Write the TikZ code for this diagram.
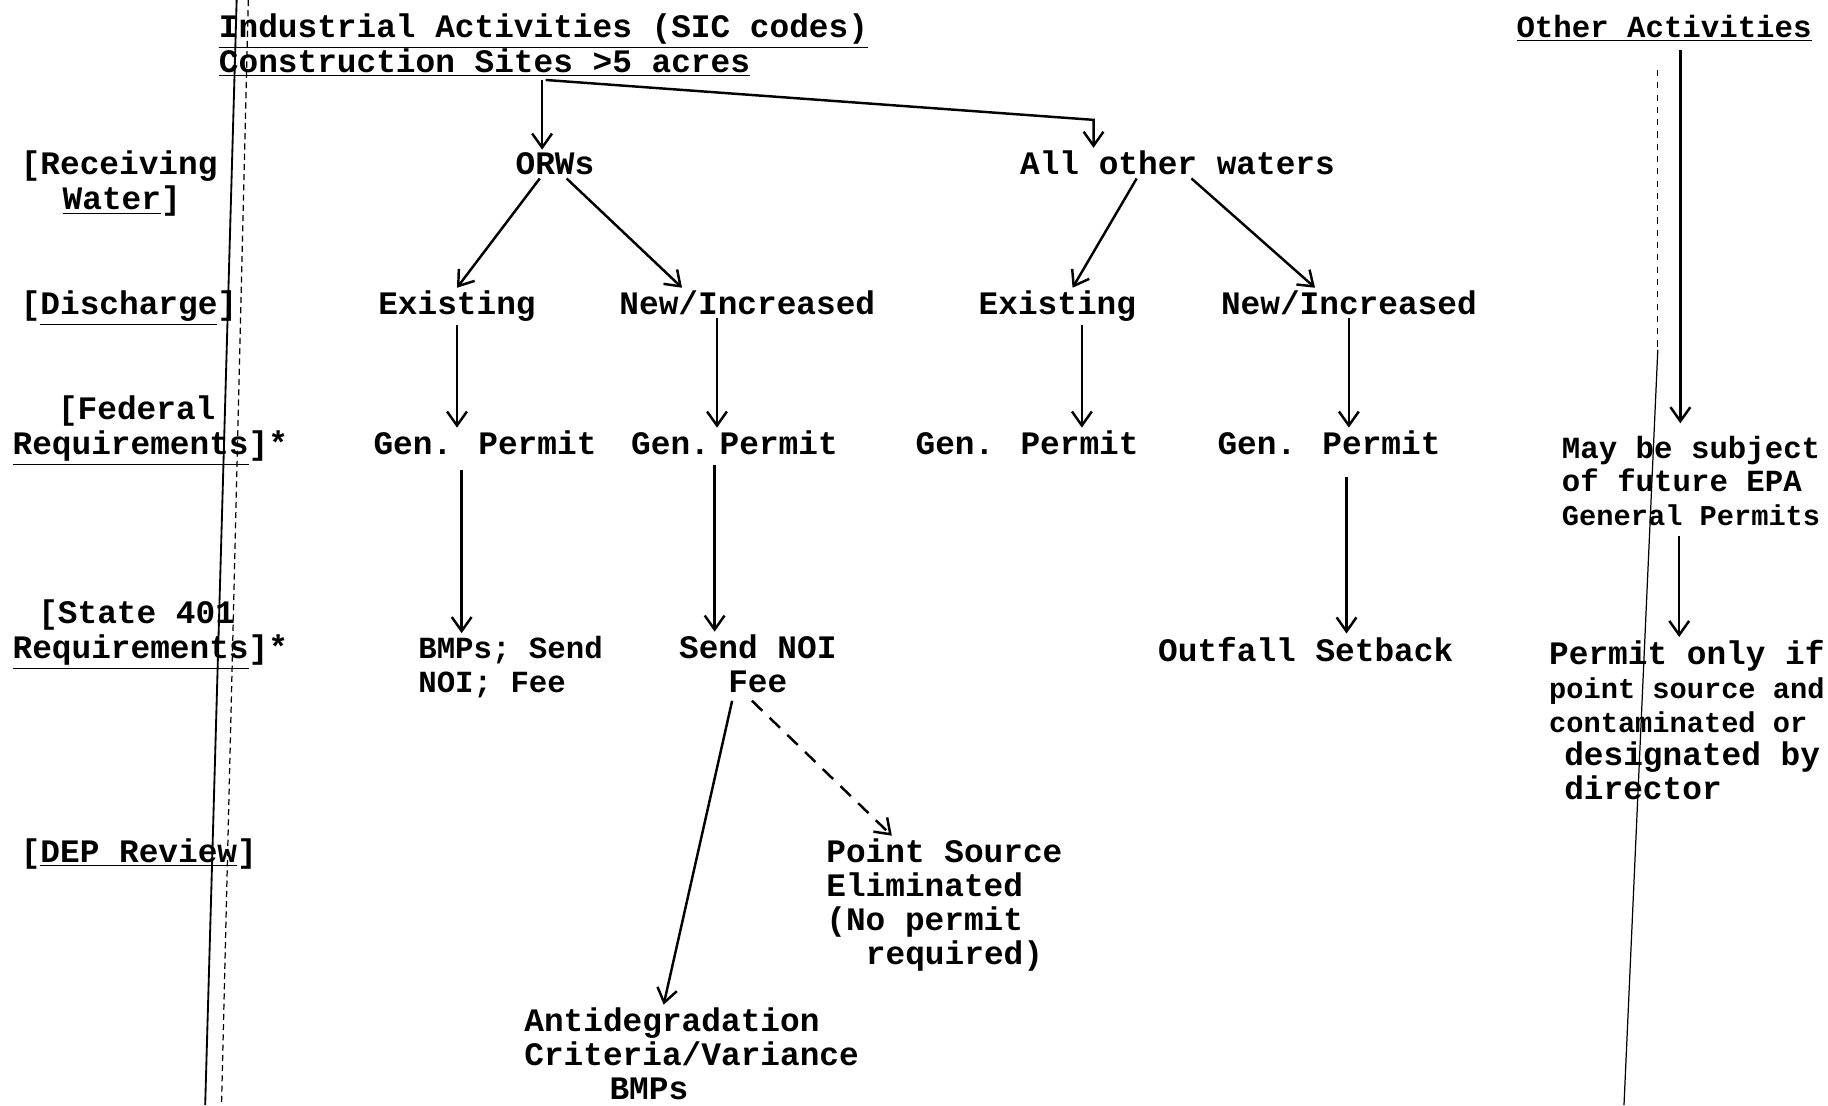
\documentclass[tikz,border=0pt]{standalone}
\usepackage{fontspec}
\setmainfont{Liberation Mono}
\usetikzlibrary{arrows.meta,calc}

\tikzset{
  txt/.style={inner sep=1pt, font=\bfseries\fontsize{16}{16.5}\selectfont},
  lft/.style={txt, anchor=base west, align=left},
  mid/.style={txt, anchor=base, align=center},
  narrow/.style={font=\bfseries\fontsize{15}{16.5}\selectfont},
  scan/.style={line width=0.9pt},
}

\begin{document}
\begin{tikzpicture}[x=0.2mm, y=-0.2mm, line width=1.2pt,
    >={Straight Barb[length=2.4mm,width=3.4mm]}]
    \useasboundingbox (0,0) rectangle (1568,948);

    % headings
    \node[lft] (ind) at (185,32) {\underline{Industrial Activities (SIC codes)}};
    \node[lft] (con) at (185,62) {\underline{Construction Sites >5 acres}};
    \node[lft, narrow] (oth) at (1298,32) {\underline{Other Activities}};

    % row labels
    \node[lft] (rw1) at (15,150) {[Receiving};
    \node[lft] (rw2) at (51,180) {\underline{Water}]};
    \node[lft] (dis) at (15,270) {[\underline{Discharge}]};
    \node[lft] (fed1) at (47,360) {[Federal};
    \node[lft] (fed2) at (8,390) {\underline{Requirements}]*};
    \node[lft] (st1) at (30,535) {[State 401};
    \node[lft] (st2) at (8,565) {\underline{Requirements}]*};
    \node[lft] (dep) at (15,740) {[\underline{DEP Review}]};

    % tree (multi-line nodes sit on their last line)
    \node[mid] (orws) at (476,150) {ORWs};
    \node[mid] (allw) at (1010,150) {All other waters};
    \node[mid] (exL) at (392,270) {Existing};
    \node[mid] (niL) at (641,270) {New/Increased};
    \node[mid] (exR) at (907,270) {Existing};
    \node[mid] (niR) at (1157,270) {New/Increased};
    \node[mid] (gp1) at (416,390) {Gen. Permit};
    \node[mid] (gp2) at (630,390) {Gen.\hspace{0.3em}Permit};
    \node[mid] (gp3) at (881,390) {Gen. Permit};
    \node[mid] (gp4) at (1140,390) {Gen. Permit};
    \node[lft, narrow] (may) at (1337,451) {May be subject\\of future EPA\\{\fontsize{14}{16.5}\selectfont General Permits}};
    \node[lft, narrow] (bmps) at (356,594) {BMPs;\ Send\\NOI;\ Fee};
    \node[mid] (noi) at (650,594) {Send NOI\\Fee};
    \node[mid] (outf) at (1120,567) {Outfall Setback};
    \node[lft] (perm) at (1326,686) {Permit only if\\{\fontsize{14}{16.5}\selectfont point source and}\\{\fontsize{14}{16.5}\selectfont contaminated or}\\\hspace*{2.6mm}designated by\\\hspace*{2.6mm}director};
    \node[lft] (psrc) at (706,827) {Point Source\\Eliminated\\(No permit\\\hspace*{6.8mm}required)};
    \node[lft] (anti) at (447,943) {Antidegradation\\Criteria/Variance\\\hspace*{14.6mm}BMPs};

    % arrows
    \draw[->] ($(orws.north |- con.south)+(-11,0)$) -- ($(orws.north)+(-11,0)$);
    \draw[->] ($(orws.north |- con.south)+(-8,0)$) -- ($(allw.north)+(-72,-24)$) -- ($(allw.north)+(-72,0)$);
    \draw[->] ($(orws.south)+(-13,0)$) -- (exL.north);
    \draw[->] ($(orws.south)+(10,0)$) -- ($(niL.north)+(-56,0)$);
    \draw[->] ($(allw.south)+(-35,0)$) -- ($(exR.north)+(13,0)$);
    \draw[->] ($(allw.south)+(12,0)$) -- ($(niR.north)+(-29,0)$);
    \draw[->] (exL) -- (exL |- gp1.north);
    \draw[->] ($(niL.south)+(-26,0)$) -- ($(niL.south |- gp2.north)+(-26,0)$);
    \draw[->] ($(exR.south)+(21,0)$) -- ($(exR.south |- gp3.north)+(21,0)$);
    \draw[->] (niR) -- (niR |- gp4.north);
    \draw[->] ($(gp1.south)+(-20,10)$) -- ($(gp1.south |- bmps.north)+(-20,0)$);
    \draw[->] ($(gp2.south)+(-17,6)$) -- ($(gp2.south |- noi.north)+(-17,0)$);
    \draw[->] ($(gp4.south)+(15,16)$) -- ($(gp4.south |- outf.north)+(15,0)$);
    \draw[->] ($(oth.south)+(14,4)$) -- ($(oth.south |- may.north)+(14,-8)$);
    \draw[->] ($(oth.south |- may.south)+(13,6)$) -- ($(oth.south |- perm.north)+(13,0)$);
    \draw[->] ($(noi.south)+(-22,4)$) -- ($(anti.north)+(-24,0)$);
    \draw[->, dash pattern=on 7pt off 5pt] ($(noi.south)+(-5,4)$) -- ($(psrc.north west)+(59,0)$);

    % fold lines of the scan
    \draw[scan] (203,0) -- (176,948);
    \draw[scan, densely dashed, line width=0.6pt] (213,0) -- (190,948);
    \draw[scan, dashed, line width=0.5pt] (1422,60) -- (1422,300);
    \draw[scan, line width=0.6pt] (1422,300) -- (1393,948);
\end{tikzpicture}
\end{document}
